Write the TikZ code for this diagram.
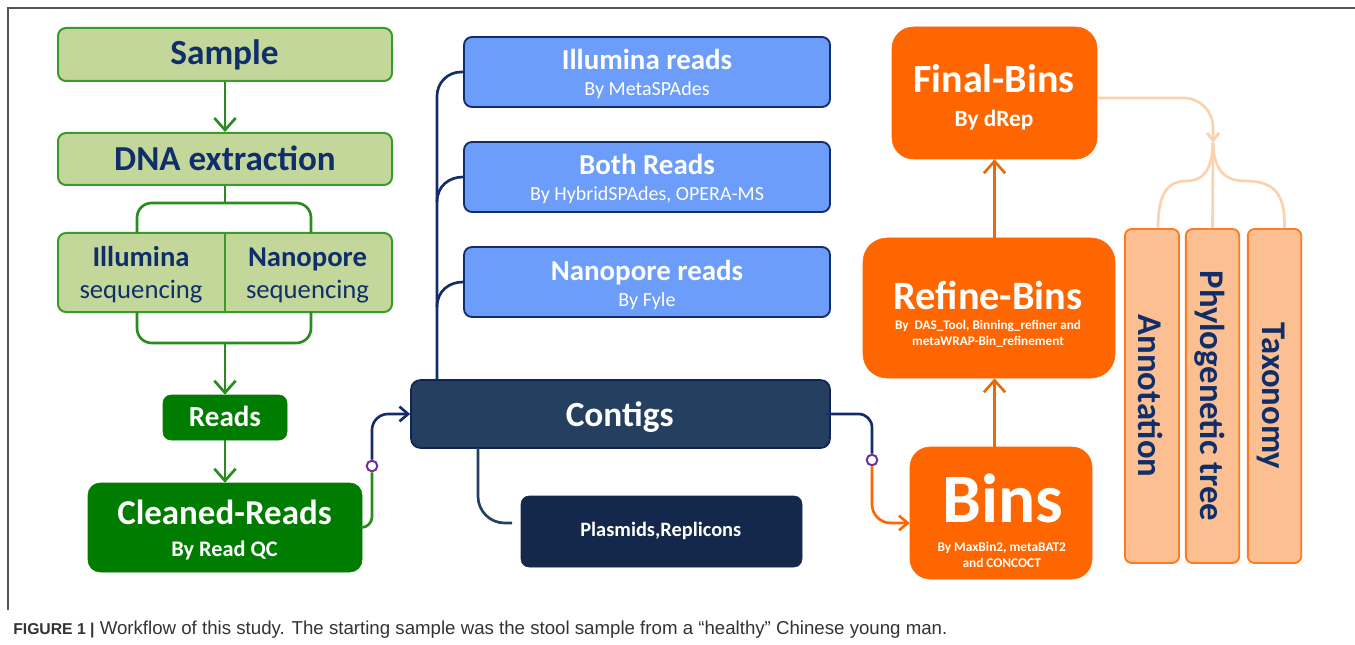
\documentclass[tikz,border=0pt]{standalone}
\usepackage{fontspec}
\setmainfont{Carlito}
\newfontfamily\capfont{Liberation Sans}
\usetikzlibrary{arrows.meta,calc}
\definecolor{lgreen}{HTML}{C4D79B}
\definecolor{gborder}{HTML}{3A9A2A}
\definecolor{gline}{HTML}{2A8C1E}
\definecolor{dgreen}{HTML}{007D00}
\definecolor{navytxt}{HTML}{102F6A}
\definecolor{navyline}{HTML}{142C6B}
\definecolor{contigc}{HTML}{253F61}
\definecolor{blueb}{HTML}{6C9DFA}
\definecolor{plasc}{HTML}{13284A}
\definecolor{orng}{HTML}{FF6600}
\definecolor{oline}{HTML}{E46C0A}
\definecolor{lorng}{HTML}{FCBF91}
\definecolor{lborder}{HTML}{FF7B21}
\definecolor{lline}{HTML}{FAD2AE}
\definecolor{purp}{HTML}{7030A0}
\definecolor{capgray}{HTML}{333333}
\definecolor{framec}{HTML}{555555}
\newcommand{\fs}[1]{\fontsize{#1}{#1}\selectfont}
\begin{document}
\begin{tikzpicture}[x=0.75pt,y=-0.75pt,
  gbox/.style={draw=gborder, line width=1.5pt, fill=lgreen, rounded corners=6pt, inner sep=0pt},
  dbox/.style={draw=dgreen, fill=dgreen, rounded corners=6pt, inner sep=0pt},
  bbox/.style={draw=navyline, line width=1.4pt, fill=blueb, rounded corners=6pt, inner sep=0pt},
  cbox/.style={draw=navyline!80!black, line width=1.2pt, fill=contigc, rounded corners=7pt, inner sep=0pt},
  pbox/.style={draw=plasc, fill=plasc, rounded corners=6pt, inner sep=0pt},
  obox/.style={draw=orng, fill=orng, inner sep=0pt},
  vbox/.style={draw=lborder, line width=1.4pt, fill=lorng, rounded corners=5pt, inner sep=0pt},
  gl/.style={draw=gline, line width=2pt},
  nl/.style={draw=navyline, line width=2pt},
  sl/.style={draw=contigc, line width=2pt},
  ol/.style={draw=orng, line width=2pt},
  ol2/.style={draw=oline, line width=2pt},
  ll/.style={draw=lline, line width=2pt},
  garrow/.style={-{Straight Barb[length=9pt,width=16pt,line width=2pt]}},
  sarrow/.style={-{Straight Barb[length=6.5pt,width=11pt,line width=2pt]}},
  oarrow/.style={-{Straight Barb[length=9pt,width=16pt,line width=2pt]}},
  larrow/.style={-{Straight Barb[length=6pt,width=9pt,line width=2pt]}},
  dot/.style={circle, draw=purp, fill=white, line width=1.5pt, minimum size=8pt, inner sep=0pt},
  tn/.style={anchor=base, inner sep=0pt, text=navytxt},
  tw/.style={anchor=base, inner sep=0pt, text=white},
]
\useasboundingbox (0,0) rectangle (1355,645);
% frame
\draw[framec, line width=1.3pt] (8,610) -- (8,8) -- (1355,8);

% ---- green column ----
\node[gbox, minimum width=250.5pt, minimum height=39.75pt] (sample) at (225,54.5) {};
\node[tn, font=\fs{26.5}\bfseries] (sampleT) at (224.5,64.5) {Sample};
\node[gbox, minimum width=250.5pt, minimum height=39pt] (dna) at (225,159) {};
\node[tn, font=\fs{26.3}\bfseries] (dnaT) at (225,170.5) {DNA extraction};
\node[gbox, minimum width=250.5pt, minimum height=59.25pt] (seq) at (225,272.5) {};
\draw[gborder, line width=1.3pt] (seq.north) -- (seq.south);
\node[tn, font=\fs{21.5}\bfseries] (illT) at (141,266.7) {Illumina};
\node[tn, font=\fs{20}] (illS) at (141,298.3) {sequencing};
\node[tn, font=\fs{21.5}\bfseries] (nanT) at (307.5,266.7) {Nanopore};
\node[tn, font=\fs{20}] (nanS) at (307.5,298.3) {sequencing};
\node[dbox, minimum width=93pt, minimum height=33.75pt] (reads) at (225,417.5) {};
\node[tw, font=\fs{21.8}\bfseries] (readsT) at (225,426.7) {Reads};
\node[dbox, rounded corners=9pt, minimum width=205.5pt, minimum height=66.75pt] (cr) at (225,527.5) {};
\node[tw, font=\fs{26.2}\bfseries] (crT) at (224.5,524.5) {Cleaned-Reads};
\node[tw, font=\fs{16.7}\bfseries] (crS) at (224.5,556) {By Read QC};

\draw[gl, garrow] (sample.south) -- (dna.north);
\coordinate (bu) at (225,203);
\coordinate (ul) at (137,233);
\coordinate (ur) at (311,233);
\draw[gl] (dna.south) -- (bu);
\draw[gl, rounded corners=11pt] (ul) |- (bu) -| (ur);
\coordinate (bl) at (225,343);
\coordinate (ll) at (137,312);
\coordinate (lr) at (311,312);
\draw[gl, rounded corners=11pt] (ll) |- (bl) -| (lr);
\draw[gl, garrow] (bl) -- (reads.north);
\draw[gl, garrow] (reads.south) -- (cr.north);

% ---- assembly column ----
\node[bbox, minimum width=274.5pt, minimum height=52.5pt] (il) at (647,72) {};
\node[tw, font=\fs{21.7}\bfseries] (ilT) at (647,69.3) {Illumina reads};
\node[tw, font=\fs{15}] (ilS) at (647,95.7) {By MetaSPAdes};
\node[bbox, minimum width=274.5pt, minimum height=52.5pt] (bo) at (647,177) {};
\node[tw, font=\fs{21.7}\bfseries] (boT) at (647,175) {Both Reads};
\node[tw, font=\fs{15}] (boS) at (647,200.7) {By HybridSPAdes, OPERA-MS};
\node[bbox, minimum width=274.5pt, minimum height=52.5pt] (np) at (647,282) {};
\node[tw, font=\fs{21.7}\bfseries] (npT) at (647,280.7) {Nanopore reads};
\node[tw, font=\fs{15}] (npS) at (647,306.7) {By Fyle};
\node[cbox, minimum width=314.25pt, minimum height=51pt] (ct) at (620.5,414) {};
\node[tw, font=\fs{26.5}\bfseries] (ctT) at (619.7,426.7) {Contigs};
\node[pbox, minimum width=210.75pt, minimum height=53.25pt] (pl) at (661.5,531.5) {};
\node[tw, font=\fs{15.3}\bfseries] (plT) at (660.8,536.7) {Plasmids,Replicons};

\coordinate (tr) at (437,380);
\draw[nl, rounded corners=18pt] (tr) |- (il.west);
\draw[nl] ($(tr |- bo.west)+(0,25)$) .. controls +(0,-16) and +(-14,0) .. (bo.west);
\draw[nl] ($(tr |- np.west)+(0,25)$) .. controls +(0,-16) and +(-14,0) .. (np.west);
\coordinate (pt) at (478,448);
\coordinate (pe) at (512,523);
\draw[sl, rounded corners=20pt] (pt) |- (pe);

\node[dot] (d1) at (372,466) {};
\draw[gl, rounded corners=8pt] (cr.east) -| (d1);
\draw[nl, sarrow, rounded corners=12pt] (d1) |- (ct.west);

% ---- binning column ----
\node[obox, rounded corners=16pt, minimum width=153.75pt, minimum height=99pt] (fb) at (994.5,93) {};
\node[tw, font=\fs{30}\bfseries] (fbT) at (994,92.5) {Final-Bins};
\node[tw, font=\fs{17.5}\bfseries] (fbS) at (994,126.5) {By dRep};
\node[obox, rounded corners=18pt, minimum width=189pt, minimum height=105pt] (rb) at (989,308) {};
\node[tw, font=\fs{30.2}\bfseries] (rbT) at (988,309.5) {Refine-Bins};
\node[tw, font=\fs{9.9}\bfseries] (rbS) at (988,329) {By\ \ DAS\_Tool, Binning\_refiner and};
\node[tw, font=\fs{9.9}\bfseries] (rbS2) at (988,345) {metaWRAP-Bin\_refinement};
\node[obox, rounded corners=15pt, minimum width=136.5pt, minimum height=99pt] (bins) at (1001,513) {};
\node[tw, font=\fs{52}\bfseries] (binsT) at (1002.5,522) {Bins};
\node[tw, font=\fs{10}\bfseries] (binsS) at (1001.7,551) {By MaxBin2, metaBAT2};
\node[tw, font=\fs{10}\bfseries] (binsS2) at (1001.7,567) {and CONCOCT};

\node[dot] (d2) at (872,460) {};
\draw[nl, rounded corners=10pt] ($(ct.east)+(-5,0)$) -| (d2);
\draw[ol, sarrow, rounded corners=14pt] (d2) |- ($(bins.west)+(0,10)$);
\draw[ol2, oarrow] (bins.north -| fb.south) -- (rb.south -| fb.south);
\draw[ol2, oarrow] (rb.north -| fb.south) -- (fb.south);

% ---- analysis ----
\node[vbox, minimum width=40.5pt, minimum height=250.5pt] (an) at (1152,396) {};
\node[vbox, minimum width=40pt, minimum height=250.5pt] (ph) at (1212.5,396) {};
\node[vbox, minimum width=40pt, minimum height=250.5pt] (tx) at (1274.5,396) {};
\node[tn, rotate=-90, font=\fs{26}\bfseries] (anT) at (1138,396) {Annotation};
\node[tn, rotate=-90, font=\fs{26}\bfseries] (phT) at (1200,396) {Phylogenetic tree};
\node[tn, rotate=-90, font=\fs{26}\bfseries] (txT) at (1262,396) {Taxonomy};

\coordinate (hub) at (1213,143);
\draw[ll, larrow, rounded corners=22pt] ($(fb.east)+(0,5)$) -| (hub);
\draw[ll] (hub) .. controls (1212,172) and (1202,181) .. (1186,181) .. controls (1164,181) and (1158,200) .. ($(an.north)+(6,0)$);
\draw[ll] (hub) -- (ph.north);
\draw[ll] (hub) .. controls (1214,172) and (1226,181) .. (1246,181) .. controls (1279,181) and (1285,200) .. ($(tx.north)+(10,0)$);

% caption
\node[anchor=base west, inner sep=0pt, text=capgray, font=\capfont\fontsize{14}{16}\selectfont] (cap) at (13,634)
  {{\fontsize{11.8}{14}\selectfont\bfseries FIGURE 1 |} Workflow of this study. The starting sample was the stool sample from a “healthy” Chinese young man.};
\end{tikzpicture}
\end{document}
